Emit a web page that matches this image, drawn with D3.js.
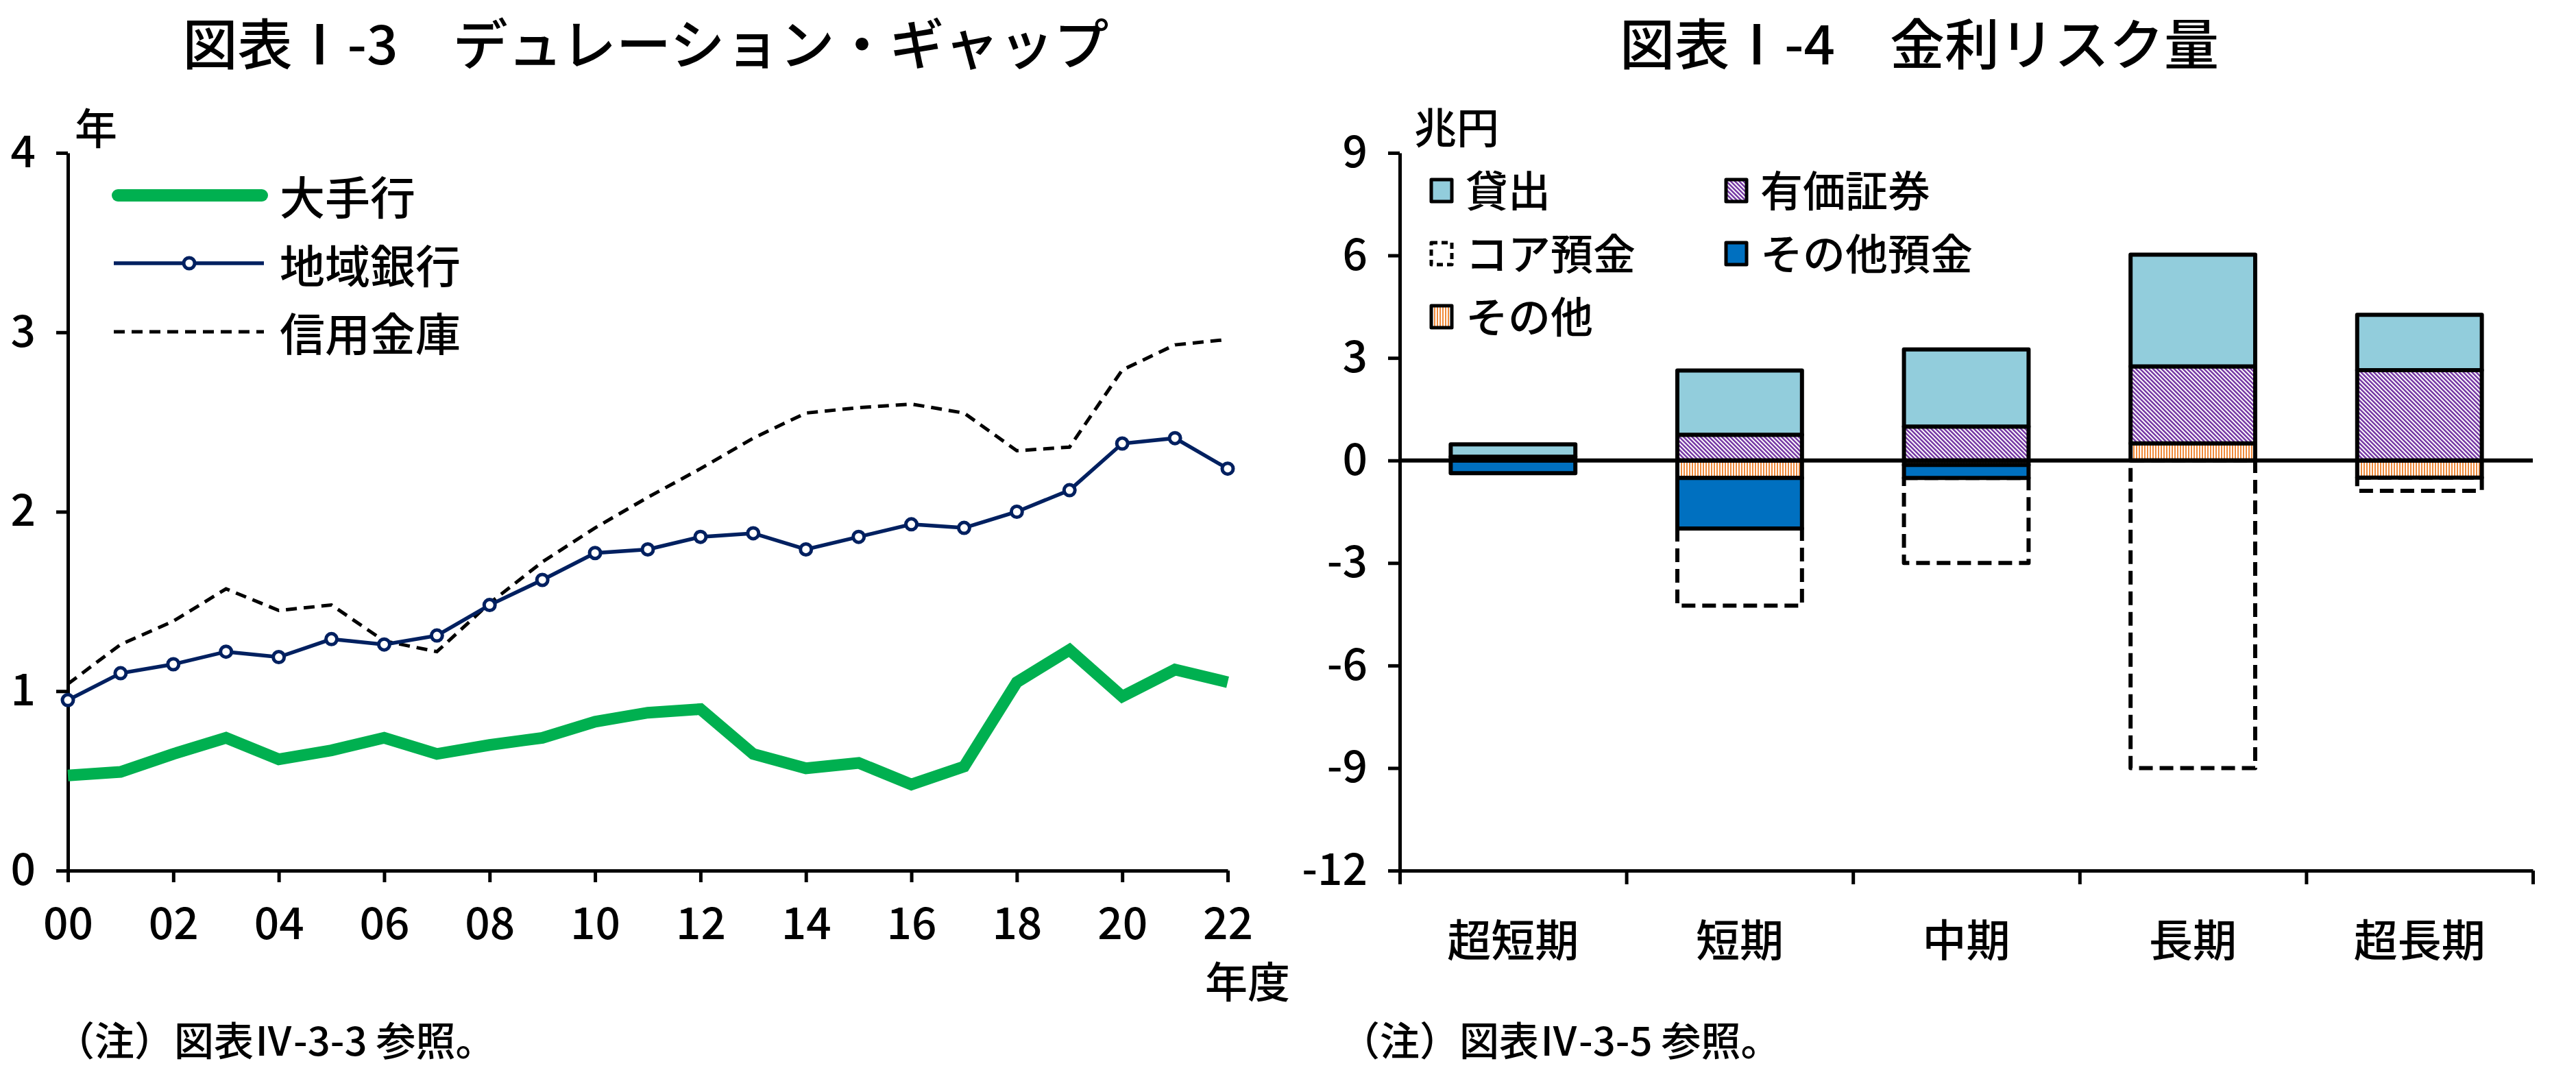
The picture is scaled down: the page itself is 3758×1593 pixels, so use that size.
<!DOCTYPE html>
<html>
<head>
<meta charset="utf-8">
<script src="https://cdn.jsdelivr.net/npm/d3@7"></script>
<style>
  body { margin: 0; background: #fff; }
  svg { display: block; }
  text { font-family: "Noto Sans CJK JP", "Noto Sans", sans-serif; fill: #000; font-weight: 500; }
</style>
</head>
<body>
<svg id="chart"></svg>
<script>
// ---- data: 図表I-3 duration gap (years) ----
const years = ['00','01','02','03','04','05','06','07','08','09','10','11','12','13','14','15','16','17','18','19','20','21','22']
const majorBanks = [0.53, 0.55, 0.65, 0.74, 0.62, 0.67, 0.74, 0.65, 0.70, 0.74, 0.83, 0.88, 0.90, 0.65, 0.57, 0.60, 0.48, 0.58, 1.05, 1.23, 0.97, 1.12, 1.05]
const regionalBanks = [0.95, 1.10, 1.15, 1.22, 1.19, 1.29, 1.26, 1.31, 1.48, 1.62, 1.77, 1.79, 1.86, 1.88, 1.79, 1.86, 1.93, 1.91, 2.00, 2.12, 2.38, 2.41, 2.24]
const shinkin = [1.04, 1.26, 1.39, 1.57, 1.45, 1.48, 1.28, 1.22, 1.49, 1.72, 1.91, 2.08, 2.24, 2.41, 2.55, 2.58, 2.60, 2.55, 2.34, 2.36, 2.79, 2.93, 2.96]
const lineTicks = [0, 1, 2, 3, 4]

// ---- data: 図表I-4 interest rate risk (trillion yen) ----
const categories = ['超短期', '短期', '中期', '長期', '超長期']
const loans = [0.36, 1.88, 2.26, 3.27, 1.62]
const securities = [0.11, 0.75, 0.99, 2.25, 2.64]
const others = [0, -0.51, -0.13, 0.50, -0.50]
const otherDeposits = [-0.37, -1.48, -0.38, 0, 0]
const coreDeposits = [0, -2.26, -2.49, -9.0, -0.39]
const barTicks = [-12, -9, -6, -3, 0, 3, 6, 9]

const width = 3758, height = 1593

let svg = d3.select('#chart')
    .attr('width', width)
    .attr('height', height)
    .attr('viewBox', [0, 0, width, height])

svg.append('rect').attr('width', width).attr('height', height).attr('fill', '#fff')

// patterns for the hatched fills
let defs = svg.append('defs')
let pp = defs.append('pattern')
    .attr('id', 'hatchPurple')
    .attr('patternUnits', 'userSpaceOnUse')
    .attr('width', 4.4).attr('height', 4.4)
    .attr('patternTransform', 'rotate(-45)')
pp.append('rect').attr('width', 4.4).attr('height', 4.4).attr('fill', '#fff')
pp.append('rect').attr('width', 2.4).attr('height', 4.4).attr('fill', '#7030A0')

let po = defs.append('pattern')
    .attr('id', 'stripeOrange')
    .attr('patternUnits', 'userSpaceOnUse')
    .attr('width', 4).attr('height', 4)
po.append('rect').attr('width', 4).attr('height', 4).attr('fill', '#fff')
po.append('rect').attr('width', 2).attr('height', 4).attr('fill', '#F08A3A')

function styleAxis(g, fontSize) {
    g.select('.domain').attr('stroke', '#000').attr('stroke-width', 5)
    g.selectAll('.tick line').attr('stroke', '#000').attr('stroke-width', 5)
    g.selectAll('.tick text')
        .attr('font-family', '"Noto Sans CJK JP", sans-serif')
        .attr('font-size', fontSize)
        .attr('font-weight', 500)
        .attr('fill', '#000')
}

// ================= left chart =================
let lm = { left: 99, right: 1791, top: 223, bottom: 1270 }

let x1 = d3.scalePoint()
    .domain(years)
    .range([lm.left, lm.right])

let y1 = d3.scaleLinear()
    .domain([0, 4])
    .range([lm.bottom, lm.top])

svg.append('text')
    .attr('x', 942).attr('y', 94)
    .attr('text-anchor', 'middle')
    .attr('font-size', 80)
    .text('図表Ⅰ-3　デュレーション・ギャップ')

svg.append('g')
    .attr('transform', `translate(${lm.left},0)`)
    .call(d3.axisLeft(y1).tickValues(lineTicks).tickSize(17).tickSizeOuter(0).tickPadding(30).tickFormat(d => String(d)))
    .call(g => styleAxis(g, 64))

svg.append('g')
    .attr('transform', `translate(0,${lm.bottom})`)
    .call(d3.axisBottom(x1).tickValues(years.filter((d, i) => i % 2 === 0)).tickSize(17).tickSizeOuter(0).tickPadding(38))
    .call(g => styleAxis(g, 64))

svg.append('text').attr('x', 140).attr('y', 211).attr('text-anchor', 'middle').attr('font-size', 62).text('年')
svg.append('text').attr('x', 1820).attr('y', 1456).attr('text-anchor', 'middle').attr('font-size', 62).text('年度')
svg.append('text').attr('x', 80).attr('y', 1540).attr('font-size', 58).text('（注）図表Ⅳ-3-3 参照。')

let line1 = vals => d3.line()
    .x((d, i) => x1(years[i]))
    .y(d => y1(d))(vals)

svg.append('path')
    .attr('d', line1(shinkin))
    .attr('fill', 'none')
    .attr('stroke', '#000')
    .attr('stroke-width', 5)
    .attr('stroke-dasharray', '16,10')

svg.append('path')
    .attr('d', line1(regionalBanks))
    .attr('fill', 'none')
    .attr('stroke', '#002060')
    .attr('stroke-width', 5.5)

svg.append('g').selectAll('circle')
    .data(regionalBanks)
    .join('circle')
    .attr('cx', (d, i) => x1(years[i]))
    .attr('cy', d => y1(d))
    .attr('r', 8)
    .attr('fill', '#fff')
    .attr('stroke', '#002060')
    .attr('stroke-width', 5)

svg.append('path')
    .attr('d', line1(majorBanks))
    .attr('fill', 'none')
    .attr('stroke', '#00B050')
    .attr('stroke-width', 17)
    .attr('stroke-linejoin', 'miter')

// left legend
let leg1 = svg.append('g')
leg1.append('line').attr('x1', 172).attr('x2', 382).attr('y1', 285).attr('y2', 285)
    .attr('stroke', '#00B050').attr('stroke-width', 18).attr('stroke-linecap', 'round')
leg1.append('line').attr('x1', 166).attr('x2', 385).attr('y1', 384).attr('y2', 384)
    .attr('stroke', '#002060').attr('stroke-width', 5.5)
leg1.append('circle').attr('cx', 276).attr('cy', 384).attr('r', 8)
    .attr('fill', '#fff').attr('stroke', '#002060').attr('stroke-width', 5)
leg1.append('line').attr('x1', 166).attr('x2', 385).attr('y1', 484).attr('y2', 484)
    .attr('stroke', '#000').attr('stroke-width', 5).attr('stroke-dasharray', '16,10')
leg1.selectAll('text')
    .data(['大手行', '地域銀行', '信用金庫'])
    .join('text')
    .attr('x', 408)
    .attr('y', (d, i) => 285 + i * 99.5 + 28)
    .attr('font-size', 66)
    .text(d => d)

// ================= right chart =================
let rm = { left: 2042, right: 3695, top: 223, bottom: 1270 }

let x2 = d3.scaleBand()
    .domain(categories)
    .range([rm.left, rm.right])
    .paddingInner(0.45)
    .paddingOuter(0.225)

let edges = d3.scaleLinear().domain([0, categories.length]).range([rm.left, rm.right])

let y2 = d3.scaleLinear()
    .domain([-12, 9])
    .range([rm.bottom, rm.top])

svg.append('text')
    .attr('x', 2800).attr('y', 94)
    .attr('text-anchor', 'middle')
    .attr('font-size', 80)
    .text('図表Ⅰ-4　金利リスク量')

let rows = categories.map((c, i) => ({
    cat: c,
    other: others[i],
    securities: securities[i],
    loans: loans[i],
    otherDep: otherDeposits[i],
    coreDep: coreDeposits[i]
}))
let keys = ['other', 'securities', 'loans', 'otherDep', 'coreDep']
let fills = {
    other: 'url(#stripeOrange)',
    securities: 'url(#hatchPurple)',
    loans: '#92CDDC',
    otherDep: '#0070C0',
    coreDep: '#fff'
}
let series = d3.stack().keys(keys).offset(d3.stackOffsetDiverging)(rows)
// core deposits first so solid borders sit on top of the dashed one
let drawOrder = ['coreDep', 'other', 'securities', 'loans', 'otherDep']

drawOrder.forEach(k => {
    let s = series.find(d => d.key === k)
    svg.append('g').selectAll('rect')
        .data(s.filter(d => d[1] !== d[0]))
        .join('rect')
        .attr('x', d => x2(d.data.cat))
        .attr('width', x2.bandwidth())
        .attr('y', d => y2(Math.max(d[0], d[1])))
        .attr('height', d => Math.abs(y2(d[0]) - y2(d[1])))
        .attr('fill', fills[k])
        .attr('stroke', '#000')
        .attr('stroke-width', 6)
        .attr('stroke-linejoin', 'round')
        .attr('stroke-dasharray', k === 'coreDep' ? '20,10' : null)
})

svg.append('line')
    .attr('x1', rm.left).attr('x2', rm.right)
    .attr('y1', y2(0)).attr('y2', y2(0))
    .attr('stroke', '#000').attr('stroke-width', 6)

svg.append('g')
    .attr('transform', `translate(${rm.left},0)`)
    .call(d3.axisLeft(y2).tickValues(barTicks).tickSize(17).tickSizeOuter(0).tickPadding(30).tickFormat(d => String(d)))
    .call(g => styleAxis(g, 64))

svg.append('g')
    .attr('transform', `translate(0,${rm.bottom})`)
    .call(d3.axisBottom(edges).tickValues(d3.range(categories.length + 1)).tickSize(20).tickSizeOuter(0).tickFormat(''))
    .call(g => styleAxis(g, 64))

svg.append('g')
    .attr('transform', `translate(0,${rm.bottom})`)
    .call(d3.axisBottom(x2).tickSize(0).tickPadding(80))
    .call(g => styleAxis(g, 64))
    .call(g => g.select('.domain').remove())

svg.append('text').attr('x', 2125).attr('y', 210).attr('text-anchor', 'middle').attr('font-size', 62).text('兆円')
svg.append('text').attr('x', 1955).attr('y', 1540).attr('font-size', 58).text('（注）図表Ⅳ-3-5 参照。')

// right legend
let legItems = [
    { key: 'loans', label: '貸出', col: 0, row: 0 },
    { key: 'securities', label: '有価証券', col: 1, row: 0 },
    { key: 'coreDep', label: 'コア預金', col: 0, row: 1 },
    { key: 'otherDep', label: 'その他預金', col: 1, row: 1 },
    { key: 'other', label: 'その他', col: 0, row: 2 }
]
let leg2 = svg.append('g').selectAll('g')
    .data(legItems)
    .join('g')
    .attr('transform', d => `translate(${2088 + d.col * 430},${278 + d.row * 92})`)
leg2.append('rect')
    .attr('x', 0).attr('y', -16)
    .attr('width', 30).attr('height', 32)
    .attr('fill', d => fills[d.key])
    .attr('stroke', '#000')
    .attr('stroke-width', 5)
    .attr('stroke-linejoin', 'round')
    .attr('stroke-dasharray', d => d.key === 'coreDep' ? '9,6' : null)
leg2.append('text')
    .attr('x', 50)
    .attr('y', 24)
    .attr('font-size', 62)
    .text(d => d.label)
</script>
</body>
</html>
